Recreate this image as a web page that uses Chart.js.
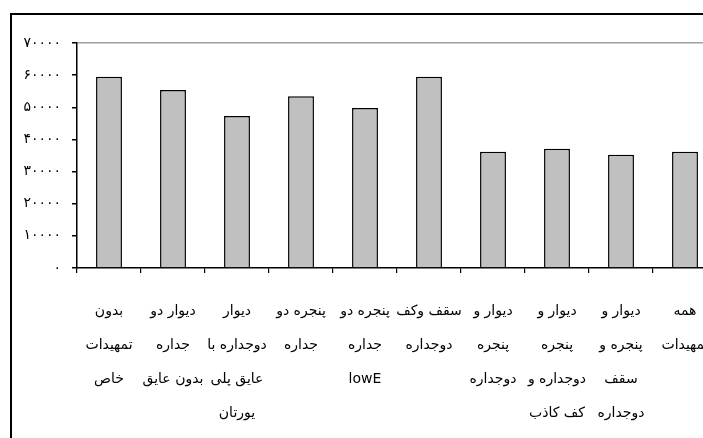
<!DOCTYPE html>
<html>
<head>
<meta charset="utf-8">
<script src="https://cdn.jsdelivr.net/npm/chart.js@4.4.0/dist/chart.umd.min.js"></script>
<style>
  html, body { margin: 0; padding: 0; background: #fff; overflow: hidden; width: 703px; height: 438px; }
  #frame { position: absolute; left: 10px; top: 13px; width: 800px; height: 500px; border: 2px solid #000; box-sizing: border-box; }
  #chart { position: absolute; left: 0; top: 0; }
</style>
</head>
<body>
<div id="frame"></div>
<canvas id="chart" width="720" height="438"></canvas>
<script>
// categories (multi-line labels, left to right)
const categories = [
  ['بدون', 'تمهیدات', 'خاص'],
  ['دیوار دو', 'جداره', 'بدون عایق'],
  ['دیوار', 'دوجداره با', 'عایق پلی', 'یورتان'],
  ['پنجره دو', 'جداره'],
  ['پنجره دو', 'جداره', 'lowE'],
  ['سقف وکف', 'دوجداره'],
  ['دیوار و', 'پنجره', 'دوجداره'],
  ['دیوار و', 'پنجره', 'دوجداره و', 'کف کاذب'],
  ['دیوار و', 'پنجره و', 'سقف', 'دوجداره'],
  ['همه', 'تمهیدات']
];
const values = [59500, 55400, 47300, 53400, 49800, 59500, 36200, 37100, 35200, 36200];
const yTickLabels = ['۰', '۱۰۰۰۰', '۲۰۰۰۰', '۳۰۰۰۰', '۴۰۰۰۰', '۵۰۰۰۰', '۶۰۰۰۰', '۷۰۰۰۰'];

const ctx = document.getElementById('chart').getContext('2d');
new Chart(ctx, {
  type: 'bar',
  data: {
    labels: categories,
    datasets: [{
      data: values,
      backgroundColor: '#c0c0c0',
      borderColor: '#000',
      borderWidth: 1.5,
      categoryPercentage: 1,
      barPercentage: 0.405
    }]
  },
  options: {
    responsive: false,
    animation: false,
    layout: { padding: { top: 43, left: 0, right: 3, bottom: 0 } },
    plugins: { legend: { display: false }, tooltip: { enabled: false } },
    scales: {
      x: {
        grid: { color: 'transparent', tickColor: '#000', tickLength: 5, lineWidth: 1.2 },
        border: { color: '#000', width: 1.5 },
        ticks: {
          color: '#000',
          padding: 21,
          maxRotation: 0,
          autoSkip: false,
          font: { family: 'DejaVu Sans', size: 14, lineHeight: 2.43 }
        },
        afterFit: s => { s.height = 170; s.paddingLeft = 0; s.paddingRight = 0; }
      },
      y: {
        min: 0,
        max: 70000,
        grid: {
          color: c => (c.tick && c.tick.value === 70000) ? '#a0a0a0' : 'transparent',
          lineWidth: 1.5,
          tickColor: '#000',
          tickLength: 5
        },
        border: { color: '#000', width: 1.5 },
        ticks: {
          stepSize: 10000,
          color: '#000',
          padding: 11,
          font: { family: 'DejaVu Sans', size: 14 },
          callback: v => yTickLabels[Math.round(v / 10000)]
        },
        afterFit: s => { s.width = 77; }
      }
    }
  }
});
</script>
</body>
</html>
